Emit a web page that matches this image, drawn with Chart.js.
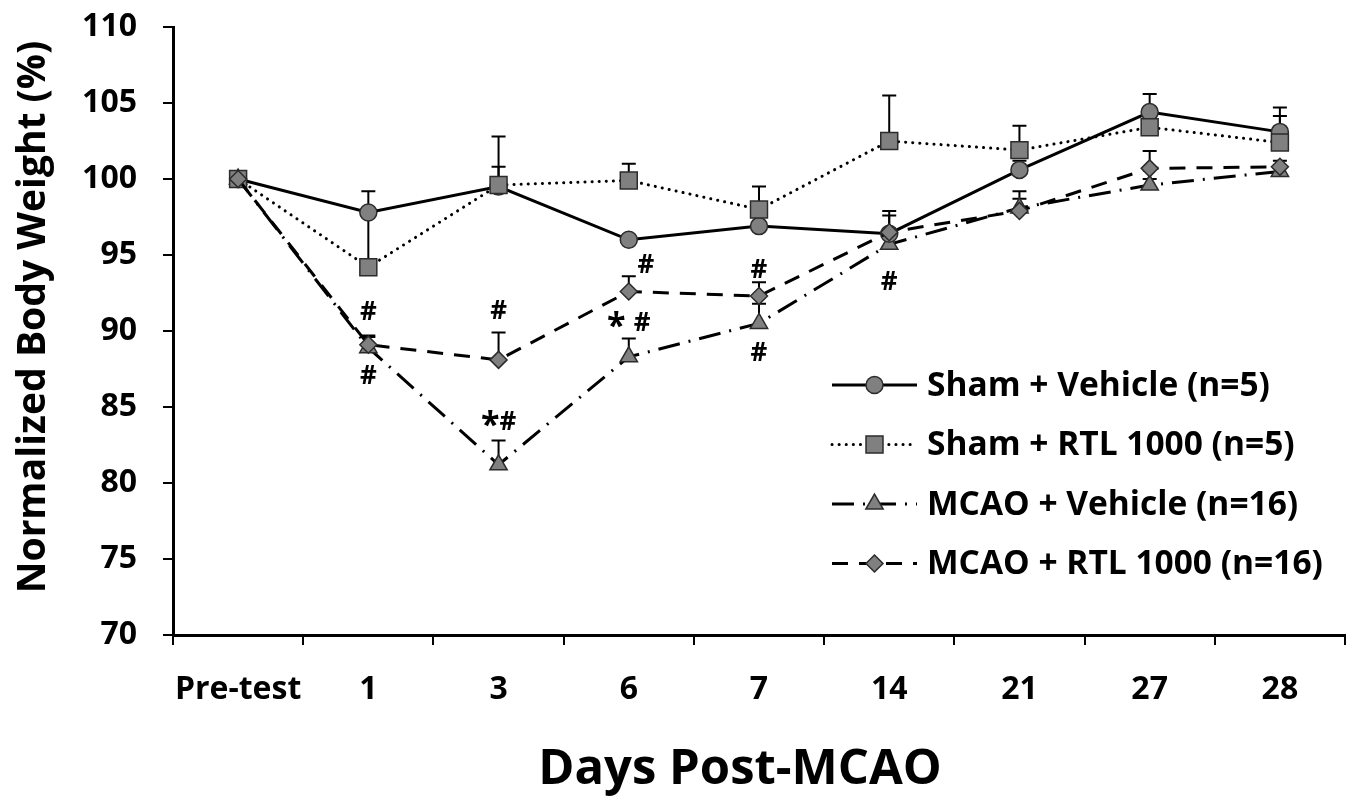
<!DOCTYPE html>
<html>
<head>
<meta charset="utf-8">
<script src="https://cdn.jsdelivr.net/npm/chart.js@4.4.0/dist/chart.umd.min.js"></script>
<style>
  html, body { margin: 0; padding: 0; background: #fff; }
  #wrap { width: 1364px; height: 800px; }
</style>
</head>
<body>
<div id="wrap"><canvas id="chart" width="1364" height="800"></canvas></div>
<script>
// Days post-MCAO (x categories)
const days = ['Pre-test', '1', '3', '6', '7', '14', '21', '27', '28'];
const yTicks = [70, 75, 80, 85, 90, 95, 100, 105, 110];

// Normalized body weight (%), means
const shamVehicle = [100, 97.8, 99.5, 96.0, 96.9, 96.4, 100.6, 104.4, 103.1];
const shamRtl = [100, 94.2, 99.6, 99.9, 98.0, 102.5, 101.9, 103.4, 102.4];
const mcaoVehicle = [100, 88.9, 81.2, 88.3, 90.5, 95.7, 98.1, 99.6, 100.5];
const mcaoRtl = [100, 89.1, 88.1, 92.6, 92.3, 96.5, 97.9, 100.7, 100.8];

// SEM (upper error bar only)
const shamVehicleErr = [0, 1.4, 1.3, 0.3, 0.3, 1.5, 0.6, 1.2, 1.6];
const shamRtlErr = [0, 3.5, 3.2, 1.1, 1.5, 3.0, 1.6, 0.5, 1.75];
const mcaoVehicleErr = [0, 0.8, 1.6, 1.2, 1.3, 0.5, 0.6, 0.4, 0.3];
const mcaoRtlErr = [0, 0.5, 1.8, 1.0, 0.9, 1.1, 1.3, 1.15, 0.4];

// significance marks: category index, y value, text
const marks = [
    [1, 91.2, '#'], [1, 87.0, '#'],
    [2, 91.3, '#'], [2, 84.0, '*#'],
    [3, 94.3, '#'], [3, 90.5, '* #'],
    [4, 94.0, '#'], [4, 88.5, '#'],
    [5, 93.2, '#']
];

const xTitle = 'Days Post-MCAO';
const yTitle = 'Normalized Body Weight (%)';

const FONT = '"Open Sans", Lato, sans-serif';
const MARK_FILL = '#808080';
const MARK_EDGE = '#2b2b2b';

function series(label, data, err, style, radius, dash, order) {
    return {
        label: label,
        data: data,
        err: err,
        order: order,
        borderColor: '#000',
        borderWidth: 3,
        borderDash: dash,
        borderCapStyle: dash.length === 2 && dash[0] < 1 ? 'round' : 'butt',
        tension: 0,
        fill: false,
        pointStyle: style,
        pointRadius: radius,
        pointHoverRadius: radius,
        pointBackgroundColor: MARK_FILL,
        pointBorderColor: MARK_EDGE,
        pointBorderWidth: 1.5
    };
}

const errorBars = {
    id: 'errorBars',
    beforeDatasetsDraw(chart) {
        const ctx = chart.ctx;
        const y = chart.scales.y;
        ctx.save();
        ctx.strokeStyle = '#000';
        ctx.lineWidth = 2;
        chart.data.datasets.forEach((ds, di) => {
            const meta = chart.getDatasetMeta(di);
            meta.data.forEach((pt, i) => {
                const e = ds.err[i];
                if (!e) return;
                const y0 = y.getPixelForValue(ds.data[i]);
                const y1 = y.getPixelForValue(ds.data[i] + e);
                ctx.beginPath();
                ctx.moveTo(pt.x, y0);
                ctx.lineTo(pt.x, y1);
                ctx.moveTo(pt.x - 7, y1);
                ctx.lineTo(pt.x + 7, y1);
                ctx.stroke();
            });
        });
        ctx.restore();
    }
};

const sigMarks = {
    id: 'sigMarks',
    afterDatasetsDraw(chart) {
        const ctx = chart.ctx;
        const xs = chart.scales.x, ys = chart.scales.y;
        ctx.save();
        ctx.fillStyle = '#000';
        ctx.textAlign = 'center';
        ctx.textBaseline = 'middle';
        marks.forEach(m => {
            let x = xs.getPixelForValue(m[0]);
            if (m[2] === '#' && (m[0] === 3)) x += 17;
            const y = ys.getPixelForValue(m[1]);
            if (m[2].charAt(0) === '*') {
                // larger asterisk followed by hash
                ctx.font = 'bold 34px ' + FONT;
                const wStar = ctx.measureText('*').width;
                ctx.font = 'bold 26px ' + FONT;
                const wHash = ctx.measureText('#').width;
                const gap = m[2].length === 3 ? 8 : 0;
                const x0 = x - (wStar + gap + wHash) / 2;
                ctx.textAlign = 'left';
                ctx.font = 'bold 34px ' + FONT;
                ctx.fillText('*', x0, y + 4);
                ctx.font = 'bold 26px ' + FONT;
                ctx.fillText('#', x0 + wStar + gap, y);
                ctx.textAlign = 'center';
            } else {
                ctx.font = 'bold 26px ' + FONT;
                ctx.fillText(m[2], x, y);
            }
        });
        ctx.restore();
    }
};

// axis titles sit slightly off the plot centre in the original
const axisTitles = {
    id: 'axisTitles',
    afterDraw(chart) {
        const ctx = chart.ctx;
        ctx.save();
        ctx.fillStyle = '#000';
        ctx.textAlign = 'center';
        ctx.textBaseline = 'middle';
        ctx.font = 'bold 49px ' + FONT;
        ctx.fillText(xTitle, 740, 770);
        ctx.translate(34, 317);
        ctx.rotate(-Math.PI / 2);
        ctx.font = 'bold 39px ' + FONT;
        ctx.fillText(yTitle, 0, 0);
        ctx.restore();
    }
};

const boxLegend = {
    id: 'boxLegend',
    afterDraw(chart) {
        const ctx = chart.ctx;
        const left = 832, lineEnd = 917, textX = 927;
        const top = 385, step = 59.5;
        chart.data.datasets.forEach((ds, i) => {
            const cy = top + i * step;
            ctx.save();
            ctx.strokeStyle = '#000';
            ctx.lineWidth = 3;
            ctx.setLineDash(ds.borderDash);
            ctx.lineCap = ds.borderCapStyle;
            ctx.beginPath();
            ctx.moveTo(left, cy);
            ctx.lineTo(lineEnd, cy);
            ctx.stroke();
            ctx.setLineDash([]);
            ctx.fillStyle = MARK_FILL;
            ctx.strokeStyle = MARK_EDGE;
            ctx.lineWidth = 1.5;
            Chart.helpers.drawPoint(ctx, {pointStyle: ds.pointStyle, radius: ds.pointRadius, borderWidth: 1.5}, (left + lineEnd) / 2, cy);
            ctx.fillStyle = '#000';
            ctx.font = 'bold 33.5px ' + FONT;
            ctx.textAlign = 'left';
            ctx.textBaseline = 'middle';
            ctx.fillText(ds.label, textX, cy + 1);
            ctx.restore();
        });
    }
};

new Chart(document.getElementById('chart'), {
    type: 'line',
    data: {
        labels: days,
        datasets: [
            series('Sham + Vehicle (n=5)', shamVehicle, shamVehicleErr, 'circle', 8.5, [], 2),
            series('Sham + RTL 1000 (n=5)', shamRtl, shamRtlErr, 'rect', 12, [0.1, 7], 1),
            series('MCAO + Vehicle (n=16)', mcaoVehicle, mcaoVehicleErr, 'triangle', 10, [22, 9, 2, 9], 3),
            series('MCAO + RTL 1000 (n=16)', mcaoRtl, mcaoRtlErr, 'rectRot', 8.5, [16, 11], 0)
        ]
    },
    options: {
        responsive: false,
        animation: false,
        layout: { padding: { left: 0, top: 27, right: 19, bottom: 0 } },
        plugins: {
            legend: { display: false },
            tooltip: { enabled: false }
        },
        scales: {
            x: {
                type: 'category',
                offset: true,
                grid: { offset: true, drawOnChartArea: false, drawTicks: true, tickLength: 10, color: '#000', lineWidth: 2 },
                border: { color: '#000', width: 3 },
                ticks: { color: '#000', padding: 26, maxRotation: 0, font: { family: FONT, size: 32, weight: 'bold' } },
                afterFit(s) { s.height = 165; s.paddingLeft = 0; s.paddingRight = 0; }
            },
            y: {
                min: 70,
                max: 110,
                afterBuildTicks(s) { s.ticks = yTicks.map(v => ({ value: v })); },
                grid: { drawOnChartArea: false, drawTicks: true, tickLength: 10, color: '#000', lineWidth: 2 },
                border: { color: '#000', width: 3 },
                ticks: { color: '#000', padding: 26, font: { family: FONT, size: 32, weight: 'bold' } },
                afterFit(s) { s.width = 173; s.paddingTop = 0; s.paddingBottom = 0; }
            }
        }
    },
    plugins: [errorBars, sigMarks, axisTitles, boxLegend]
});
</script>
</body>
</html>
